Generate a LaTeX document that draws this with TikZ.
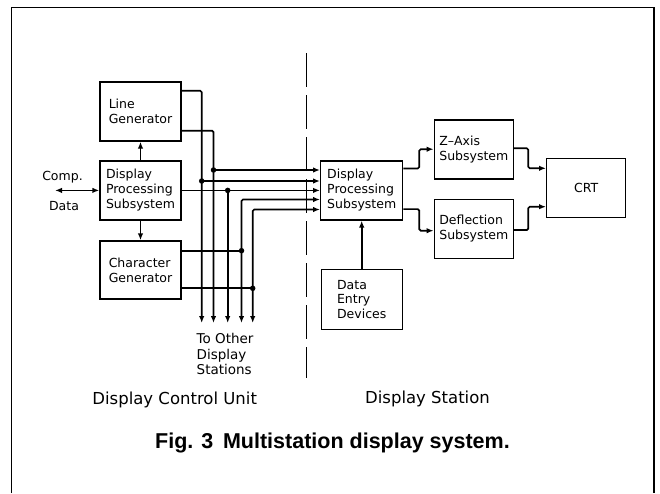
\documentclass[tikz,border=0pt]{standalone}
\usepackage{fontspec}
\setmainfont{DejaVu Sans}
\newfontfamily\capfont{Liberation Sans}
\usetikzlibrary{arrows.meta}
\tikzset{
  box/.style={draw, line width=1.4pt, inner sep=0pt, minimum width=81pt, minimum height=59pt, align=left,
    font=\fontsize{12.5}{15}\selectfont},
  wire/.style={line width=1.7pt, rounded corners=1.5pt},
  arr/.style={wire, -{Latex[length=7pt,width=5.5pt]}},
  dblarr/.style={wire, {Latex[length=7pt,width=5.5pt]}-{Latex[length=7pt,width=5.5pt]}},
  jdot/.style={fill, circle, inner sep=0pt, minimum size=5.5pt},
  lbl/.style={inner sep=0pt, font=\fontsize{12.5}{15}\selectfont},
  biglbl/.style={inner sep=0pt, font=\fontsize{16.5}{19}\selectfont},
  dashline/.style={line width=1.4pt, dash pattern=on 34pt off 8pt},
  frameline/.style={line width=1.8pt}
}
\begin{document}
\begin{tikzpicture}[x=1pt,y=-1pt]
\useasboundingbox (0,0) rectangle (660,493);
% frame
\coordinate (f1) at (11.5,493);
\coordinate (f2) at (11.5,7.5);
\coordinate (f3) at (654,7.5);
\coordinate (f4) at (654,493);
\draw[frameline] (f1) -- (f2) -- (f3) -- (f4);

% boxes
\node[box] (LG) at (140.5,111.5) {Line\\Generator};
\node[box] (DPSL) at (140.5,190.4) {Display\\Processing\\Subsystem};
\node[box, minimum height=58pt] (CG) at (140.5,270) {Character\\Generator};
\node[box, minimum width=82pt] (DPSR) at (361.7,190.4) {Display\\Processing\\Subsystem};
\node[box, minimum width=79pt] (ZA) at (473.8,149.5) {Z--Axis\\Subsystem};
\node[box, minimum width=79pt] (DF) at (473.8,228.8) {Deflection\\Subsystem};
\node[box, minimum width=79pt, align=center] (CRT) at (586.2,188.2) {CRT};
\node[box, minimum height=60pt, font=\fontsize{12.5}{14.3}\selectfont] (DE) at (361.7,299.3) {Data\\Entry\\Devices};

% comp data
\coordinate (cd) at (55,190.4);
\draw[dblarr] (cd) -- (DPSL.west);
\node[lbl] (comp) at (62.5,176.7) {Comp.};
\node[lbl] (data) at (64,205.7) {Data};

% internal arrows
\draw[arr] (DPSL.north) -- (LG.south);
\draw[arr] (DPSL.south) -- (CG.north);

% bus bottoms
\coordinate (b1) at (201.7,323);
\coordinate (b2) at (213.5,323);
\coordinate (b3) at (227.7,323);
\coordinate (b4) at (241.5,323);
\coordinate (b5) at (252.7,323);
% junctions
\coordinate (j1) at (213.5,170);
\coordinate (j2) at (201.7,181);
\coordinate (j3) at (227.7,190.4);
\coordinate (j4) at (241.5,250.7);
\coordinate (j5) at (252.7,288.3);

% line generator outputs
\draw[arr] ([yshift=20.8pt]LG.east) -| (b1);
\draw[arr] ([yshift=-19.2pt]LG.east) -| (b2);
% to display station
\draw[arr] (j1) -- (j1 -| DPSR.west);
\draw[arr] (j2) -- (j2 -| DPSR.west);
\draw[arr] (DPSL.east) -- (DPSR.west);
\draw[arr] (j3) -- (b3);
\draw[dblarr] (b4) |- ([yshift=-9.1pt]DPSR.west);
\draw[dblarr] (b5) |- ([yshift=-19.1pt]DPSR.west);
% character generator outputs
\draw[wire] ([yshift=19.3pt]CG.east) -- (j4);
\draw[wire] ([yshift=-18.3pt]CG.east) -- (j5);
% dots
\foreach \j in {j1,j2,j3,j4,j5} \node[jdot] at (\j) {};

% to other display stations
\node[inner sep=0pt, anchor=west, align=left, font=\fontsize{13.5}{15.6}\selectfont] (other) at (196.5,354) {To Other\\Display\\Stations};

% dashed separator
\coordinate (dtop) at (306.5,53);
\coordinate (dbot) at (306.5,378);
\draw[dashline] (dtop) -- (dbot);

% right side
\coordinate (mx) at (419.3,0);
\coordinate (nx) at (528.3,0);
\coordinate (dpA) at ([yshift=22pt]DPSR.east);
\coordinate (dpB) at ([yshift=-18.7pt]DPSR.east);
\coordinate (zaT) at ([yshift=0.3pt]ZA.west);
\coordinate (dfT) at ([yshift=-1.9pt]DF.west);
\draw[arr] (dpA) -| (mx |- zaT) -- (zaT);
\draw[arr] (dpB) -| (mx |- dfT) -- (dfT);
\coordinate (zaO) at ([yshift=1.2pt]ZA.east);
\coordinate (dfO) at ([yshift=-1.2pt]DF.east);
\coordinate (crA) at ([yshift=19.9pt]CRT.west);
\coordinate (crB) at ([yshift=-18.5pt]CRT.west);
\draw[arr] (zaO) -| (nx |- crA) -- (crA);
\draw[arr] (dfO) -| (nx |- crB) -- (crB);
\draw[arr] (DE.north) -- (DPSR.south);

% bottom labels
\node[biglbl] (dcu) at (174.7,400) {Display Control Unit};
\node[biglbl] (dst) at (427.5,399.3) {Display Station};
\node[inner sep=0pt, font=\capfont\bfseries\fontsize{21.5}{24}\selectfont] (cap) at (332.5,442.7) {Fig. 3\hspace{0.45em}Multistation display system.};
\end{tikzpicture}
\end{document}
